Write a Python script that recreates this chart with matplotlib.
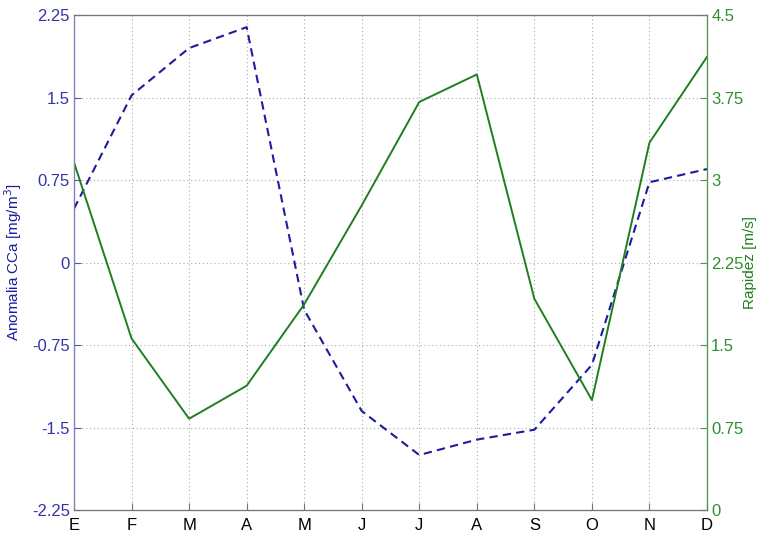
import matplotlib.pyplot as plt
import numpy as np

plt.rcParams['font.family'] = ['Liberation Sans', 'DejaVu Sans']

meses = ["E", "F", "M", "A", "M", "J", "J", "A", "S", "O", "N", "D"]
anomalia = [0.49, 1.52, 1.95, 2.14, -0.43, -1.35, -1.75, -1.61, -1.52, -0.93, 0.73, 0.85]
rapidez = [3.16, 1.56, 0.83, 1.13, 1.87, 2.77, 3.71, 3.96, 1.92, 1.0, 3.34, 4.12]

azul = "#1c1c9c"
verde = "#1f7f1f"

x = np.arange(len(meses))

fig = plt.figure(figsize=(7.59, 5.38), dpi=100)
ax = fig.add_axes([0.0975, 0.052, 0.834, 0.92])
ax2 = ax.twinx()

ax.plot(x, anomalia, "--", color=azul, linewidth=1.5, dashes=(4, 2.5))
ax2.plot(x, rapidez, "-", color=verde, linewidth=1.4)

ax.set_xlim(0, 11)
ax.set_ylim(-2.25, 2.25)
ax2.set_ylim(0, 4.5)

ax.set_xticks(x)
ax.set_xticklabels(meses, fontsize=12)
yt = [-2.25, -1.5, -0.75, 0, 0.75, 1.5, 2.25]
ax.set_yticks(yt)
ax.set_yticklabels(["-2.25", "-1.5", "-0.75", "0", "0.75", "1.5", "2.25"], color="#3434a8", fontsize=12)
ax2.set_yticks([0, 0.75, 1.5, 2.25, 3, 3.75, 4.5])
ax2.set_yticklabels(["0", "0.75", "1.5", "2.25", "3", "3.75", "4.5"], color="#2f8f2f", fontsize=12)

ax.grid(True, linestyle=(0, (1, 2.5)), color="#aaaaaa", linewidth=0.8)

ax.tick_params(axis="both", direction="in", length=5, color="#777777", pad=3)
ax.tick_params(axis="x", pad=6)
ax.tick_params(axis="y", colors="#5555aa", labelcolor="#3434a8")
ax2.tick_params(axis="y", direction="in", length=5, colors="#4a9a4a", labelcolor="#2f8f2f", pad=3)

for s in ["top", "bottom"]:
    ax2.spines[s].set_color("#777777")
ax2.spines["left"].set_color("#8080c0")
ax2.spines["right"].set_color("#4a9a4a")

ax.set_ylabel("Anomalia CCa [mg/m$^3$]", color=azul, fontsize=11, labelpad=6)
fig.text(750 / 759, 0.5 + 0.013, "Rapidez [m/s]", color=verde, fontsize=11,
         rotation=90, ha="center", va="center")

fig.savefig("out.png", dpi=100)
